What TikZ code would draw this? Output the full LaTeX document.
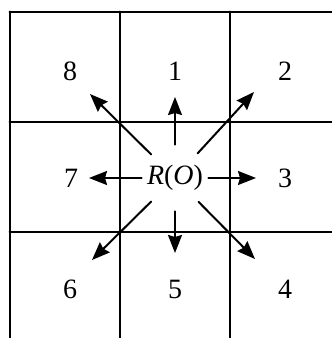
\documentclass[tikz,border=0pt]{standalone}
\usepackage{fontspec}
\setmainfont{Liberation Serif}
\usepackage{unicode-math}
\setmathfont{Latin Modern Math}
\usetikzlibrary{arrows.meta}

\begin{document}
\begin{tikzpicture}[x=0.5pt,y=-0.5pt,line cap=round,line join=round]
\path[use as bounding box] (0,0) rectangle (332,338);
\clip (0,0) rectangle (332,338);

\tikzset{
  gridline/.style={line width=1pt,black},
  move/.style={line width=1pt,-{Stealth[length=9pt,width=7pt,inset=1pt]}},
  cell/.style={font=\fontsize{14}{16}\selectfont,inner sep=0pt}
}

% 3x3 grid, right and bottom edges run off the picture
\foreach \k in {0,1,2,3}{
  \draw[gridline] (9.5+110*\k,11.5) -- (9.5+110*\k,360);
  \draw[gridline] (9.5,11.5+110*\k) -- (360,11.5+110*\k);
}

\node[cell,circle,minimum size=33pt] (R) at (175,178) {\textit{R}(\textit{O})};

\node[cell] (n1) at (175,71) {1};
\node[cell] (n2) at (285,71) {2};
\node[cell] (n3) at (285,178) {3};
\node[cell] (n4) at (285,289) {4};
\node[cell] (n5) at (175,289) {5};
\node[cell] (n6) at (70,289) {6};
\node[cell] (n7) at (71,178) {7};
\node[cell] (n8) at (70,71) {8};

\coordinate (t1) at (175,97);
\coordinate (t2) at (254,92);
\coordinate (t3) at (256,178);
\coordinate (t4) at (255,259);
\coordinate (t5) at (175,253);
\coordinate (t6) at (92,260);
\coordinate (t7) at (89,178);
\coordinate (t8) at (90,94);

\foreach \t in {1,...,8}{\draw[move] (R) -- (t\t);}
\end{tikzpicture}
\end{document}
